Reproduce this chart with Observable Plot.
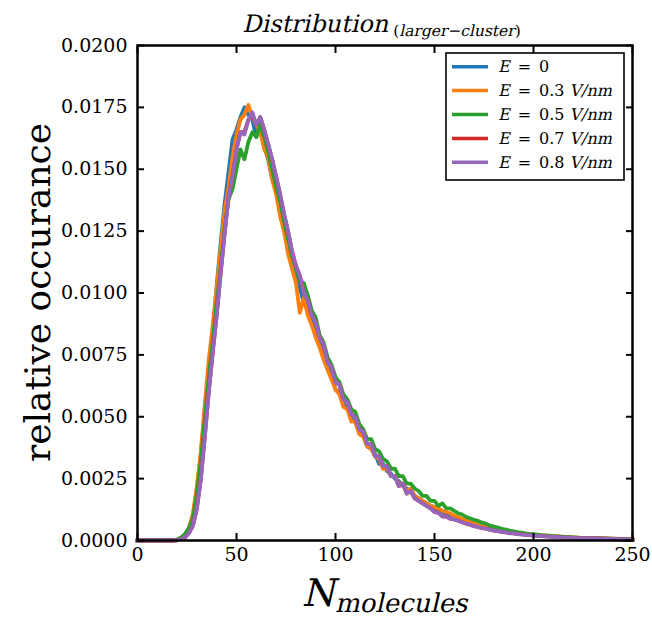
<!DOCTYPE html>
<html><head><meta charset="utf-8">
<script src="https://cdn.jsdelivr.net/npm/d3@7"></script>
<script src="https://cdn.jsdelivr.net/npm/@observablehq/plot@0.6"></script>
<style>
body{margin:0;background:#fff}
#chart svg text{font-family:"DejaVu Serif" !important;}
</style>
</head><body><div id="chart"></div>
<script>
const bins = [0,2,4,6,8,10,12,14,16,18,
20,22,24,26,28,30,32,34,36,38,
40,42,44,46,48,50,52,54,56,58,
60,62,64,66,68,70,72,74,76,78,
80,82,84,86,88,90,92,94,96,98,
100,102,104,106,108,110,112,114,116,118,
120,122,124,126,128,130,132,134,136,138,
140,142,144,146,148,150,152,154,156,158,
160,162,164,166,168,170,172,174,176,178,
180,182,184,186,188,190,192,194,196,198,
200,202,204,206,208,210,212,214,216,218,
220,222,224,226,228,230,232,234,236,238,
240,242,244,246,248,250];

const fieldValues = ["0", "0.3", "0.5", "0.7", "0.8"];
const fieldUnit = "V/nm";
const seriesColors = ["#1f77b4", "#ff7f0e", "#2ca02c", "#d62728", "#9467bd"];

const valuesE00 = [0,0,0,0,0,0,0,0,0,0,
0.00003,0.0001,0.00025,0.0005,0.001,0.0021,0.0035,0.0053,0.007,0.0085,
0.0103,0.012,0.0136,0.0149,0.0162,0.0166,0.0171,0.0175,0.0172,0.017,
0.0163,0.0171,0.0159,0.0154,0.0146,0.0142,0.0132,0.0128,0.0117,0.0113,
0.0106,0.0102,0.0096,0.0093,0.0088,0.0086,0.0079,0.0076,0.007,0.0067,
0.0061,0.006,0.0055,0.0054,0.0049,0.0048,0.0044,0.0043,0.0038,0.0037,
0.0035,0.0031,0.0031,0.0028,0.0027,0.0025,0.0024,0.0022,0.0021,0.002,
0.0018,0.0017,0.0016,0.0015,0.0014,0.00135,0.0012,0.00118,0.00108,0.00104,
0.00097,0.0009,0.00086,0.0008,0.00076,0.0007,0.00066,0.0006,0.00057,0.00052,
0.00048,0.00045,0.00041,0.00038,0.00029,0.00033,0.0003,0.00028,0.00026,0.00024,
0.00023,0.00022,0.0002,0.00019,0.00018,0.00017,0.00016,0.00015,0.00014,0.00013,
0.00012,0.00011,0.00011,0.0001,0.00009,0.00009,0.00008,0.00008,0.00007,0.00007,
0.00006,0.00006,0.00005,0.00005,0.00004,0.00004];

const valuesE03 = [0,0,0,0,0,0,0,0,0,0,
0.00002,0.0001,0.0002,0.0005,0.0011,0.0022,0.0036,0.0055,0.0073,0.0087,
0.0102,0.0118,0.0133,0.0143,0.0155,0.0164,0.017,0.0172,0.0176,0.0171,
0.0168,0.0165,0.0158,0.0155,0.0146,0.014,0.0131,0.0125,0.0116,0.011,
0.0104,0.0092,0.0098,0.0091,0.0087,0.0082,0.0078,0.0073,0.0069,0.0065,
0.0061,0.0059,0.0054,0.0053,0.0048,0.0048,0.0043,0.0042,0.0038,0.0037,
0.0034,0.0033,0.0029,0.0029,0.0026,0.0026,0.0023,0.0023,0.002,0.0021,
0.0018,0.0017,0.0016,0.0015,0.0014,0.00135,0.0013,0.0012,0.00115,0.0011,
0.001,0.00094,0.00088,0.0008,0.00078,0.00072,0.00067,0.00062,0.00058,0.00054,
0.00049,0.00046,0.00042,0.00039,0.00036,0.00034,0.00031,0.00029,0.00027,0.00026,
0.00024,0.00023,0.00021,0.0002,0.00019,0.00018,0.00017,0.00015,0.00015,0.00014,
0.00013,0.00012,0.00011,0.00011,0.0001,0.0001,0.00009,0.00009,0.00008,0.00008,
0.00007,0.00007,0.00006,0.00006,0.00006,0.00005];

const valuesE05 = [0,0,0,0,0,0,0,0,0,0,
0.00004,0.00012,0.00025,0.0005,0.0009,0.0019,0.0032,0.0049,0.0066,0.008,
0.0096,0.011,0.0126,0.0138,0.0142,0.015,0.0158,0.0154,0.0161,0.0165,
0.0163,0.0168,0.0163,0.0157,0.015,0.0143,0.0137,0.0129,0.0122,0.0115,
0.011,0.0105,0.0104,0.0099,0.0093,0.009,0.0083,0.008,0.0074,0.0071,
0.0066,0.0064,0.0059,0.0057,0.0053,0.0052,0.0047,0.0045,0.0041,0.0041,
0.0037,0.0036,0.0033,0.0032,0.0029,0.0029,0.0026,0.0026,0.0023,0.0023,
0.0021,0.002,0.0018,0.0018,0.0016,0.0016,0.0014,0.0015,0.0013,0.0013,
0.0012,0.0011,0.00105,0.00095,0.0009,0.00083,0.00079,0.00072,0.00068,0.0006,
0.00056,0.00052,0.00047,0.00044,0.0004,0.00037,0.00034,0.00032,0.00029,0.00027,
0.00026,0.00024,0.00022,0.00021,0.0002,0.00018,0.00017,0.00016,0.00015,0.00014,
0.00013,0.00012,0.00011,0.00011,0.0001,0.00009,0.00009,0.00008,0.00008,0.00007,
0.00007,0.00006,0.00006,0.00005,0.00005,0.00004];

const valuesE07 = [0,0,0,0,0,0,0,0,0,0,
0.00001,0.00005,0.00012,0.0003,0.0006,0.0013,0.0025,0.0042,0.006,0.0076,
0.0091,0.0108,0.0124,0.0139,0.0147,0.0158,0.0165,0.0165,0.0170,0.0172,
0.0168,0.0171,0.0166,0.016,0.0154,0.0147,0.014,0.0132,0.0125,0.0117,
0.0111,0.0107,0.01,0.0097,0.0091,0.0088,0.0082,0.0079,0.0072,0.007,
0.0064,0.0063,0.0057,0.0056,0.0051,0.005,0.0045,0.0044,0.0039,0.0039,
0.0034,0.0034,0.003,0.003,0.0026,0.0026,0.0022,0.0023,0.0019,0.002,
0.0017,0.0016,0.0015,0.0014,0.0013,0.00116,0.00112,0.00098,0.00097,0.00088,
0.00085,0.0008,0.00074,0.00068,0.00064,0.00058,0.00055,0.0005,0.00048,0.00044,
0.0004,0.00038,0.00035,0.00033,0.0003,0.00029,0.00026,0.00025,0.00023,0.00022,
0.0002,0.00019,0.00018,0.00017,0.00016,0.00015,0.00014,0.00013,0.00012,0.00012,
0.00011,0.0001,0.0001,0.00009,0.00009,0.00008,0.00008,0.00007,0.00007,0.00006,
0.00006,0.00005,0.00005,0.00004,0.00004,0.00003];

const valuesE08 = [0,0,0,0,0,0,0,0,0,0,
0.00001,0.00005,0.00012,0.0003,0.0006,0.0013,0.0025,0.0042,0.006,0.0076,
0.0091,0.0108,0.0124,0.0139,0.0147,0.0158,0.0165,0.0164,0.017,0.0173,
0.0168,0.0171,0.0166,0.016,0.0154,0.0147,0.014,0.0132,0.0125,0.0117,
0.0111,0.0107,0.01,0.0097,0.0091,0.0088,0.0082,0.0079,0.0072,0.007,
0.0064,0.0063,0.0057,0.0056,0.0051,0.005,0.0045,0.0044,0.0039,0.0039,
0.0034,0.0034,0.003,0.003,0.0026,0.0026,0.0022,0.0023,0.0019,0.002,
0.0017,0.0016,0.0015,0.0014,0.0013,0.00115,0.00112,0.00098,0.00097,0.00088,
0.00085,0.0008,0.00074,0.00068,0.00064,0.00058,0.00055,0.0005,0.00048,0.00044,
0.0004,0.00038,0.00035,0.00033,0.0003,0.00029,0.00026,0.00025,0.00023,0.00022,
0.0002,0.00019,0.00018,0.00017,0.00016,0.00015,0.00014,0.00013,0.00012,0.00012,
0.00011,0.0001,0.0001,0.00009,0.00009,0.00008,0.00008,0.00007,0.00007,0.00006,
0.00006,0.00005,0.00005,0.00004,0.00004,0.00003];

const xTicks = [0, 50, 100, 150, 200, 250];
const yTicks = [0, 0.0025, 0.005, 0.0075, 0.01, 0.0125, 0.015, 0.0175, 0.02];
const titleMain = "Distribution";
const titleSub = "larger\u2212cluster";
const xLabelMain = "N";
const xLabelSub = "molecules";
const yLabel = "relative occurance";

const allSeries = [valuesE00, valuesE03, valuesE05, valuesE07, valuesE08];
const rows = [];
allSeries.forEach((vals, k) => vals.forEach((v, i) => rows.push({x: bins[i], y: v, k})));

const W = 652, H = 618;
const mL = 137, mR = 20, mT = 45, mB = 78;
const font = "DejaVu Serif";

const svg = Plot.plot({
  width: W, height: H,
  marginLeft: mL, marginRight: mR, marginTop: mT, marginBottom: mB,
  style: {fontFamily: font, fontSize: "19px", color: "black", background: "white", overflow: "visible"},
  x: {domain: [0, 250], label: null},
  y: {domain: [0, 0.02], label: null},
  marks: [
    ...allSeries.map((_, k) => Plot.line(rows.filter(r => r.k === k), {
      x: "x", y: "y", stroke: seriesColors[k], strokeWidth: 3.8, strokeLinejoin: "round", strokeLinecap: "square"
    })),
    Plot.axisX(xTicks, {anchor: "bottom", tickSize: -7, tickPadding: 14, strokeWidth: 2, fontSize: 19, label: null}),
    Plot.axisX(xTicks, {anchor: "top", tickSize: -7, tickFormat: () => "", strokeWidth: 2, label: null}),
    Plot.axisY(yTicks, {anchor: "left", tickSize: -7, tickPadding: 17, strokeWidth: 2, fontSize: 19, tickFormat: d3.format(".4f"), label: null}),
    Plot.axisY(yTicks, {anchor: "right", tickSize: -7, tickFormat: () => "", strokeWidth: 2, label: null}),
    Plot.frame({stroke: "black", strokeWidth: 2.5})
  ]
});
document.getElementById("chart").appendChild(svg);

const s = d3.select(svg);
const cx = mL + (W - mL - mR) / 2;

// rich text: sequential pieces, italic ones drawn as slanted serif
function rich(parent, x, y, pieces, anchor) {
  const g = parent.append("g");
  let cur = 0;
  for (const p of pieces) {
    cur += p.dx || 0;
    const el = g.append("text")
      .attr("font-family", font).attr("font-size", p.size)
      .attr("text-anchor", "start").attr("fill", "black")
      .attr("transform", `translate(${cur},${p.dy || 0})` + (p.italic ? " skewX(-13)" : ""))
      .text(p.text);
    cur += el.node().getComputedTextLength();
  }
  const off = anchor === "middle" ? -cur / 2 : 0;
  g.attr("transform", `translate(${x + off},${y})`);
  return g;
}

// title
rich(s, cx - 3, 32, [
  {text: titleMain, size: 24, italic: true},
  {text: "(", size: 15.5, dy: 4, dx: 5},
  {text: titleSub, size: 15.5, dy: 4, italic: true},
  {text: ")", size: 15.5, dy: 4}
], "middle");

// x label
rich(s, cx, 606, [
  {text: xLabelMain, size: 38, italic: true},
  {text: xLabelSub, size: 26, dy: 6, italic: true}
], "middle");

// y label
s.append("text").attr("transform", `translate(50,${mT + (H - mT - mB) / 2}) rotate(-90)`)
  .attr("text-anchor", "middle").attr("font-family", font).attr("font-size", 36).attr("fill", "black")
  .text(yLabel);

// legend
const lg = s.append("g");
lg.append("rect").attr("x", 446).attr("y", 53).attr("width", 178).attr("height", 127)
  .attr("fill", "white").attr("stroke", "black").attr("stroke-width", 1.6);
fieldValues.forEach((val, k) => {
  const yy = 66.7 + k * 23.9;
  lg.append("line").attr("x1", 452).attr("x2", 488).attr("y1", yy).attr("y2", yy)
    .attr("stroke", seriesColors[k]).attr("stroke-width", 3.5);
  const pieces = [
    {text: "E", size: 16, italic: true},
    {text: "=", size: 16, dx: 8},
    {text: val, size: 16, dx: 8}
  ];
  if (k > 0) pieces.push({text: fieldUnit, size: 16, dx: 5, italic: true});
  rich(lg, 498, yy + 5.5, pieces, "start");
});
</script>
</body></html>
